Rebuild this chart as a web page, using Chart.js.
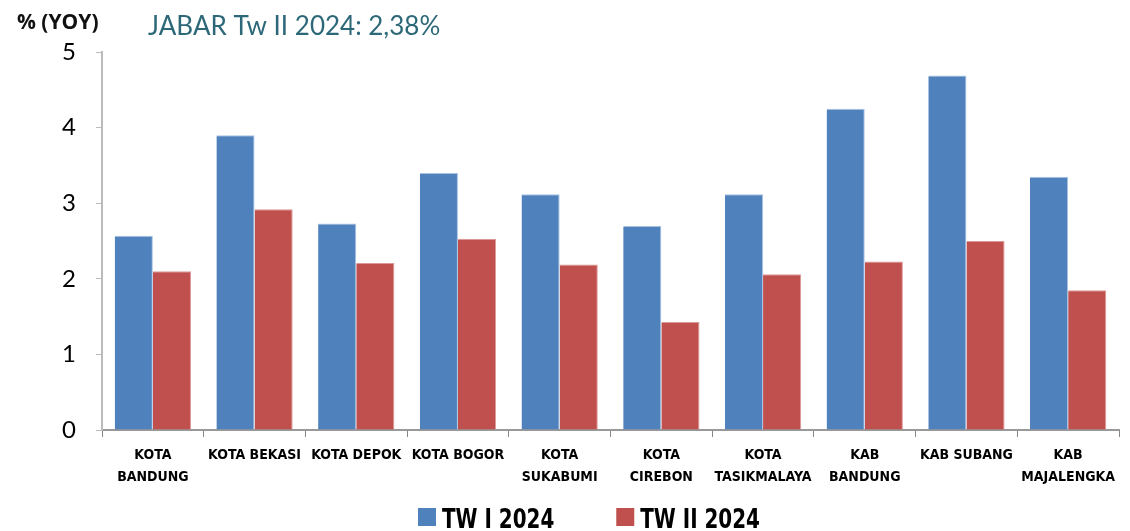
<!DOCTYPE html>
<html>
<head>
<meta charset="utf-8">
<script src="https://cdn.jsdelivr.net/npm/chart.js@4"></script>
<style>
  html, body { margin: 0; padding: 0; background: #fff; }
  #wrap { position: relative; width: 1130px; height: 531px; }
  canvas { display: block; }
</style>
</head>
<body>
<div id="wrap"><canvas id="c" width="1130" height="531"></canvas></div>
<script>
const categories = [
  ["KOTA", "BANDUNG"], "KOTA BEKASI", "KOTA DEPOK", "KOTA BOGOR", ["KOTA", "SUKABUMI"],
  ["KOTA", "CIREBON"], ["KOTA", "TASIKMALAYA"], ["KAB", "BANDUNG"], "KAB SUBANG", ["KAB", "MAJALENGKA"]
];
const seriesNames = ["TW I 2024", "TW II 2024"];
const twI2024 = [2.57, 3.90, 2.73, 3.40, 3.12, 2.70, 3.12, 4.25, 4.69, 3.35];
const twII2024 = [2.10, 2.92, 2.21, 2.53, 2.19, 1.43, 2.06, 2.23, 2.50, 1.85];
const yTicks = [0, 1, 2, 3, 4, 5];
const unitLabel = "% (YOY)";
const titleText = "JABAR Tw II 2024: 2,38%";

const condensed = "'Liberation Sans Narrow', 'Arial Narrow', 'DejaVu Sans Condensed', sans-serif";

const textPlugin = {
  id: 'texts',
  afterDraw(chart) {
    const ctx = chart.ctx;
    ctx.save();
    ctx.textBaseline = 'alphabetic';
    ctx.textAlign = 'left';
    ctx.fillStyle = '#111';
    ctx.font = "bold 21px 'Open Sans', sans-serif";
    ctx.fillText(unitLabel, 17, 29);
    ctx.fillStyle = '#2d6878';
    ctx.font = "26px Lato, 'Open Sans', sans-serif";
    ctx.fillText(titleText, 148, 35);

    // legend built from the datasets
    const sx = 0.82;
    ctx.font = "bold 27px " + condensed;
    let x = 418;
    const boxTop = 508, box = 18, baseline = 528;
    chart.data.datasets.forEach((ds) => {
      ctx.fillStyle = ds.backgroundColor;
      ctx.fillRect(x, boxTop, box, box);
      x += box + 6;
      const w = ctx.measureText(ds.label).width * sx;
      ctx.save();
      ctx.translate(x, baseline);
      ctx.scale(sx, 1);
      ctx.fillStyle = '#000';
      ctx.fillText(ds.label, 0, 0);
      ctx.restore();
      x += w + 62;
    });
    ctx.restore();
  }
};

new Chart(document.getElementById('c'), {
  type: 'bar',
  data: {
    labels: categories,
    datasets: [
      { label: seriesNames[0], data: twI2024, backgroundColor: '#4f81bd', borderColor: '#a9c2e2', borderWidth: {top:1, right:1, left:0, bottom:0} },
      { label: seriesNames[1], data: twII2024, backgroundColor: '#c0504d', borderColor: '#dc9896', borderWidth: {top:1, right:1, left:0, bottom:0} }
    ]
  },
  options: {
    responsive: false,
    animation: false,
    devicePixelRatio: 1,
    layout: { padding: { top: 52, right: 11, left: 0, bottom: 0 } },
    datasets: { bar: { categoryPercentage: 0.75, barPercentage: 1.0 } },
    plugins: {
      legend: { display: false },
      tooltip: { enabled: false },
      title: { display: false }
    },
    scales: {
      x: {
        afterFit(scale) { scale.height = 101; },
        grid: { display: true, drawOnChartArea: false, drawTicks: true, tickLength: 7, color: '#888', offset: true },
        border: { display: true, color: '#999', width: 2 },
        ticks: {
          color: '#000', padding: 8, maxRotation: 0, autoSkip: false,
          font: { family: condensed, size: 14, weight: 'bold', lineHeight: 1.55 }
        }
      },
      y: {
        min: 0, max: 5,
        afterFit(scale) { scale.width = 102; },
        afterBuildTicks(scale) { scale.ticks = yTicks.map(v => ({ value: v })); },
        grid: { display: true, drawOnChartArea: false, drawTicks: true, tickLength: 6, color: '#bbb' },
        border: { display: true, color: '#bbb', width: 2 },
        ticks: {
          color: '#000', padding: 20,
          font: { family: "Lato, 'Open Sans', sans-serif", size: 24 }
        }
      }
    }
  },
  plugins: [textPlugin]
});
</script>
</body>
</html>
